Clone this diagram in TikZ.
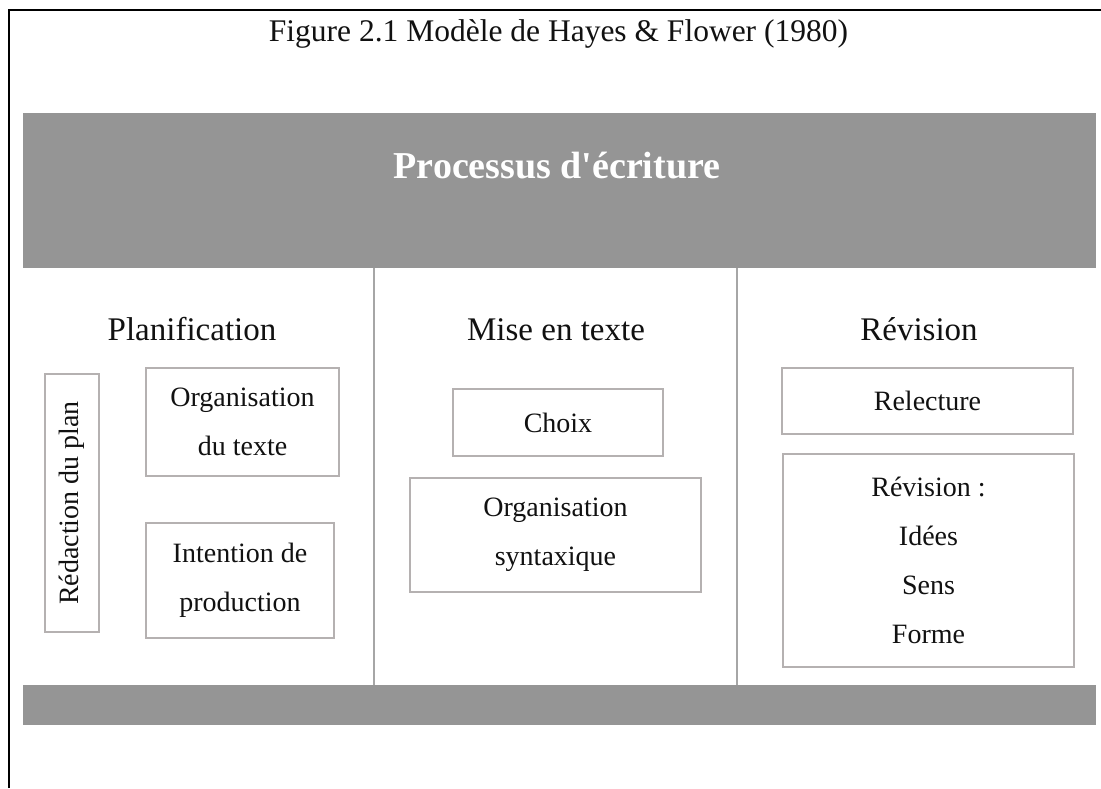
\documentclass[tikz,border=0pt]{standalone}
\usepackage{fontspec}
\setmainfont{Liberation Serif}
% same face without TeX input mapping, so that ' stays a straight quote
\newfontfamily\straightserif{Liberation Serif}
\definecolor{bandgray}{HTML}{959595}
\definecolor{rulegray}{HTML}{A6A6A6}
\definecolor{boxgray}{HTML}{B5B1B1}
\definecolor{ink}{HTML}{111111}
\begin{document}
\begin{tikzpicture}[x=1pt,y=-1pt,
  stepbox/.style={draw=boxgray, line width=2pt, fill=white, inner sep=0pt,
    align=center, text=ink, font=\fontsize{28}{49}\selectfont},
  heading/.style={anchor=base, text=ink, font=\fontsize{33}{40}\selectfont},
  band/.style={fill=bandgray, draw=none, inner sep=0pt, anchor=north west},
  divider/.style={draw=rulegray, line width=2pt}]
\useasboundingbox (0,0) rectangle (1101,788);

% outer frame (top and left edges)
\draw[line width=2.3pt] (9,788) -- (9,10) -- (1101,10);

% caption
\node[anchor=base, text=ink, font=\fontsize{31.5}{38}\selectfont] (caption) at (558.5,41)
  {Figure 2.1 Modèle de Hayes \& Flower (1980)};

% header and footer bands
\node[band, minimum width=1073pt, minimum height=155pt] (topband) at (23,113) {};
\node[band, minimum width=1073pt, minimum height=40pt] (bottomband) at (23,685) {};
\node[anchor=base, text=white, font=\straightserif\bfseries\fontsize{38}{44}\selectfont] (process) at (557,178)
  {Processus d'écriture};

% column separators
\coordinate (c1) at (374,0);
\coordinate (c2) at (737,0);
\draw[divider] (topband.south -| c1) -- (bottomband.north -| c1);
\draw[divider] (topband.south -| c2) -- (bottomband.north -| c2);

% column headings
\node[heading] (plan) at (192,340) {Planification};
\node[heading] (mise) at (556,340) {Mise en texte};
\node[heading] (revi) at (919,340) {Révision};

% Planification
\node[stepbox, rotate=90, minimum width=258pt, minimum height=54pt] (redac) at (72,503) {Rédaction du plan};
\node[stepbox, minimum width=193pt, minimum height=108pt] (orgtexte) at (242.5,422) {Organisation\\du texte};
\node[stepbox, minimum width=188pt, minimum height=115pt] (intention) at (240,580.5) {Intention de\\production};

% Mise en texte
\node[stepbox, minimum width=210pt, minimum height=67pt] (choix) at (558,422.5) {Choix};
\node[stepbox, minimum width=291pt, minimum height=114pt] (orgsyn) at (555.5,535) {Organisation\\syntaxique};

% Révision
\node[stepbox, minimum width=291pt, minimum height=66pt] (relecture) at (927.5,401) {Relecture};
\node[stepbox, minimum width=291pt, minimum height=213pt] (revbox) at (928.5,560.5) {Révision :\\Idées\\Sens\\Forme};
\end{tikzpicture}
\end{document}
